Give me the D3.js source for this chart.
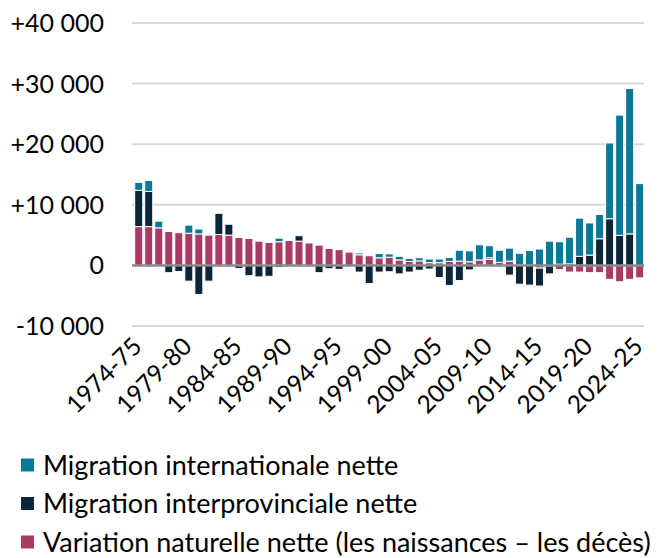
<!DOCTYPE html>
<html><head><meta charset="utf-8">
<script src="https://cdn.jsdelivr.net/npm/d3@7"></script>
<style>
html,body{margin:0;padding:0;background:#fff;}
text{font-family:Lato,"Open Sans",sans-serif;fill:#000;}
</style></head>
<body><svg id="chart" width="666" height="558"></svg>
<script>
const years = ["1974-75","1975-76","1976-77","1977-78","1978-79","1979-80","1980-81","1981-82","1982-83","1983-84",
"1984-85","1985-86","1986-87","1987-88","1988-89","1989-90","1990-91","1991-92","1992-93","1993-94",
"1994-95","1995-96","1996-97","1997-98","1998-99","1999-00","2000-01","2001-02","2002-03","2003-04",
"2004-05","2005-06","2006-07","2007-08","2008-09","2009-10","2010-11","2011-12","2012-13","2013-14",
"2014-15","2015-16","2016-17","2017-18","2018-19","2019-20","2020-21","2021-22","2022-23","2023-24","2024-25"];

const international = [1300,1800,1100,0,0,1350,800,0,0,0,
0,0,0,0,600,0,0,0,0,0,
0,0,300,0,700,550,600,500,500,600,
600,650,1800,1800,2500,2000,2000,2150,1900,2400,
2700,4000,3700,4400,6300,5300,4000,12500,19850,24000,13500];

const interprovincial = [6000,5800,-100,-1200,-1000,-2600,-4800,-2600,3500,1800,
-500,-1700,-1900,-1800,-300,0,900,0,-1200,-550,
-650,-100,-1100,-3000,-1100,-1050,-1400,-1100,-800,-600,
-2000,-3300,-2500,-750,0,250,0,-1600,-3100,-3250,
-2950,-1300,200,250,1500,1700,4400,7700,4950,5200,0];

const natural = [6400,6400,6200,5600,5400,5300,5200,5000,5100,5000,
4600,4450,4000,3800,3900,4100,4000,3700,3350,2800,
2600,2200,1750,1600,1250,1350,900,650,750,450,
450,650,700,600,900,1000,500,700,100,50,
-450,-100,-700,-1100,-1100,-1200,-1200,-2300,-2700,-2300,-2050];

const yTicks = [-10000,0,10000,20000,30000,40000];
const seriesKeys = ["nat","inter","intl"];
const seriesLabels = {intl:"Migration internationale nette", inter:"Migration interprovinciale nette", nat:"Variation naturelle nette (les naissances – les décès)"};
const colors = {intl:"#0a7899", inter:"#0c2538", nat:"#a83a63"};
const legendOrder = ["intl","inter","nat"];

const rows = years.map((y,i)=>({year:y, intl:international[i], inter:interprovincial[i], nat:natural[i]}));

const svg = d3.select("#chart");
const plotL = 132, plotR = 644;

const x = d3.scaleBand().domain(years).range([130.7, 647.7]).paddingInner(0.2).paddingOuter(0.4);
const y = d3.scaleLinear().domain([-10000, 40000]).range([326, 23]);

// gridlines
svg.append("g").selectAll("line").data(yTicks.filter(d=>d!==0)).join("line")
  .attr("x1",plotL).attr("x2",plotR).attr("y1",d=>y(d)).attr("y2",d=>y(d))
  .attr("stroke","#d9d9d9").attr("stroke-width",2);

// y axis labels
const fmt = d => d===0 ? "0" : (d>0?"+":"-") + d3.format(",")(Math.abs(d)).replace(/,/g," ");
svg.append("g").selectAll("text").data(yTicks).join("text")
  .attr("x",104).attr("y",d=>y(d)).attr("dy","0.36em").attr("text-anchor","end")
  .attr("font-size",25).text(fmt);

// stacked bars
const stack = d3.stack().keys(seriesKeys).offset(d3.stackOffsetDiverging);
const layers = stack(rows);
svg.append("g").selectAll("g").data(layers).join("g")
  .attr("fill", d=>colors[d.key])
  .selectAll("rect").data(d=>d.filter(s=>s[1]!==s[0])).join("rect")
  .attr("x", d=>x(d.data.year)).attr("width", x.bandwidth())
  .attr("y", d=>y(Math.max(d[0],d[1]))).attr("height", d=>Math.abs(y(d[0])-y(d[1])))
  .attr("stroke","#fff").attr("stroke-width",1);

// zero line
svg.append("line").attr("x1",plotL).attr("x2",plotR).attr("y1",y(0)).attr("y2",y(0))
  .attr("stroke","#888").attr("stroke-width",2.5);

// x labels
const labelYears = years.filter((d,i)=>i%5===0);
svg.append("g").selectAll("text").data(labelYears).join("text")
  .attr("transform", d=>`translate(${x(d)+x.bandwidth()/2+4.5},${348}) rotate(-45)`)
  .attr("text-anchor","end").attr("font-size",24.5).text(d=>d);

// legend
const lg = svg.append("g");
legendOrder.forEach((k,i)=>{
  const cy = 465 + i*38.5;
  lg.append("rect").attr("x",21).attr("y",cy-6.5).attr("width",13).attr("height",13).attr("fill",colors[k]);
  lg.append("text").attr("x",43).attr("y",cy).attr("dy","0.36em").attr("font-size",27).text(seriesLabels[k]);
});
</script></body></html>
